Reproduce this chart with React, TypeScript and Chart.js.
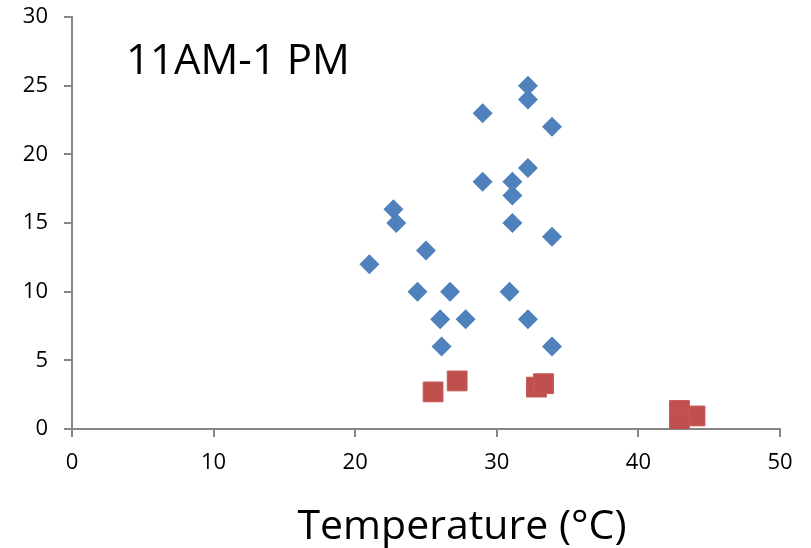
import { useEffect, useRef } from "react";
import { Chart, registerables } from "chart.js";

Chart.register(...registerables);

// Blue series: temperature (°C) and count
const blueTemps = [21, 22.7, 22.9, 25, 24.4, 26.7, 26, 26.1, 27.8, 29, 29, 31.1, 31.1, 31.1, 30.9, 32.2, 32.2, 33.9, 32.2, 33.9, 32.2, 33.9];
const blueCounts = [12, 16, 15, 13, 10, 10, 8, 6, 8, 23, 18, 18, 17, 15, 10, 25, 24, 22, 19, 14, 8, 6];

// Red series: temperature (°C) and count
const redTemps = [25.5, 27.2, 32.8, 33.3, 44, 42.9, 42.9];
const redCounts = [2.7, 3.5, 3.05, 3.3, 0.95, 1.35, 0.45];

const xMin = 0;
const xMax = 50;
const xStep = 10;
const yMin = 0;
const yMax = 30;
const yStep = 5;

const panelLabel = "11AM-1 PM";
const xAxisTitle = "Temperature (°C)";

const FONT = '"Open Sans", "Liberation Sans", sans-serif';
const AXIS_GRAY = "#868686";

function toPoints(xs: number[], ys: number[]) {
  return xs.map((x, i) => ({ x, y: ys[i] }));
}

// Draws the panel label inside the plot and the x-axis title below it
const annotationsPlugin = {
  id: "panelText",
  afterDraw(chart: any) {
    const { ctx, chartArea } = chart;
    ctx.save();
    ctx.fillStyle = "#000";
    ctx.textBaseline = "alphabetic";
    ctx.textAlign = "left";
    ctx.font = `42px ${FONT}`;
    ctx.fillText(panelLabel, chartArea.left + 54, chartArea.top + 57);
    ctx.textAlign = "center";
    ctx.font = `41px ${FONT}`;
    ctx.fillText(xAxisTitle, (chartArea.left + chartArea.right) / 2 + 36, chartArea.bottom + 110);
    ctx.restore();
  },
};

export default function App() {
  const canvasRef = useRef<HTMLCanvasElement | null>(null);

  useEffect(() => {
    document.body.style.margin = "0";
    const canvas = canvasRef.current;
    if (!canvas) return;

    const chart = new Chart(canvas, {
      type: "scatter",
      data: {
        datasets: [
          {
            label: "Series1",
            data: toPoints(blueTemps, blueCounts),
            pointStyle: "rectRot",
            pointRadius: 10,
            backgroundColor: "#4F81BD",
            borderColor: "#4F81BD",
            borderWidth: 0,
          },
          {
            label: "Series2",
            data: toPoints(redTemps, redCounts),
            pointStyle: "rect",
            pointRadius: 14,
            backgroundColor: "#C0504D",
            borderColor: "#C55A57",
            borderWidth: 1,
          },
        ],
      },
      options: {
        responsive: false,
        animation: false,
        devicePixelRatio: 1,
        layout: { padding: { top: 0, right: 31, left: 0, bottom: 0 } },
        plugins: {
          legend: { display: false },
          tooltip: { enabled: false },
        },
        scales: {
          x: {
            type: "linear",
            min: xMin,
            max: xMax,
            ticks: {
              stepSize: xStep,
              color: "#000",
              padding: 13,
              font: { family: FONT, size: 22 },
            },
            grid: {
              display: true,
              drawOnChartArea: false,
              drawTicks: true,
              tickLength: 8,
              color: AXIS_GRAY,
              lineWidth: 2,
            },
            border: { color: AXIS_GRAY, width: 2 },
            afterFit(scale: any) {
              scale.height = 119;
              scale.paddingLeft = 0;
              scale.paddingRight = 0;
            },
          },
          y: {
            type: "linear",
            min: yMin,
            max: yMax,
            ticks: {
              stepSize: yStep,
              color: "#000",
              padding: 16,
              font: { family: FONT, size: 22 },
            },
            grid: {
              display: true,
              drawOnChartArea: false,
              drawTicks: true,
              tickLength: 8,
              color: AXIS_GRAY,
              lineWidth: 2,
            },
            border: { color: AXIS_GRAY, width: 2 },
            afterFit(scale: any) {
              scale.width = 72;
              scale.paddingTop = 17;
              scale.paddingBottom = 0;
            },
          },
        },
      },
      plugins: [annotationsPlugin],
    });

    return () => chart.destroy();
  }, []);

  return (
    <div style={{ position: "fixed", left: 0, top: 0, width: 811, height: 548, background: "#fff" }}>
      <canvas ref={canvasRef} width={811} height={548} style={{ width: 811, height: 548 }} />
    </div>
  );
}
